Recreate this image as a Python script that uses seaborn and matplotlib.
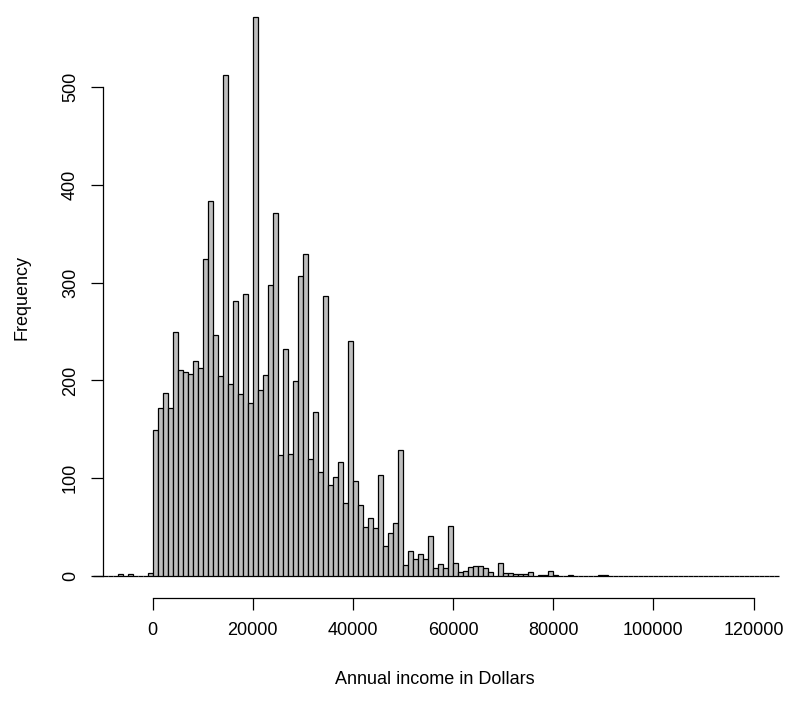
import numpy as np
import pandas as pd
import matplotlib
matplotlib.use("Agg")
import matplotlib.pyplot as plt
import seaborn as sns

# ---- data (bin width 1000 dollars, first bin starts at -12000) ----
bin_start = -12000
bin_width = 1000
counts_negative = [0, 0, 0, 0, 0, 2, 0, 2, 0, 0, 0, 3]            # -12000 .. -1000
counts_0_49k = [149, 172, 187, 172, 250, 211, 209, 207, 220, 213,
                324, 383, 246, 204, 512, 196, 281, 186, 288, 177,
                572, 190, 206, 298, 371, 124, 232, 125, 199, 307,
                329, 120, 168, 106, 286, 93, 101, 117, 75, 240,
                97, 73, 50, 59, 49, 103, 31, 44, 54, 129]
counts_50_99k = [11, 26, 17, 22, 17, 41, 8, 12, 8, 51,
                 13, 4, 5, 9, 10, 10, 8, 4, 0, 13,
                 3, 3, 2, 2, 2, 4, 0, 1, 1, 5,
                 1, 0, 0, 1, 0, 0, 0, 0, 0, 1,
                 1, 0, 0, 0, 0, 0, 0, 0, 0, 0]
counts_100_124k = [0] * 25
x_ticks = [0, 20000, 40000, 60000, 80000, 100000, 120000]
y_ticks = [0, 100, 200, 300, 400, 500]
x_title = "Annual income in Dollars"
y_title = "Frequency"

counts = counts_negative + counts_0_49k + counts_50_99k + counts_100_124k
n_bins = len(counts)
edges = bin_start + bin_width * np.arange(n_bins + 1)
centers = edges[:-1] + bin_width / 2
df = pd.DataFrame({"income": centers, "n": counts})

# ---- figure ----
W, H = 800, 702
sns.set_style("white")
plt.rcParams["font.family"] = ["Liberation Sans", "DejaVu Sans"]
plt.rcParams["text.color"] = "black"
fig = plt.figure(figsize=(W / 100, H / 100), dpi=100)

# pixel mapping: x_px = 152.6 + 0.005008 * value ; y_px = 576 - 0.978 * value
def xval(px):
    return (px - 152.6) / 0.005008

def yval(py):
    return (576 - py) / 0.978

L, R, T, B = 103, 795, 3, 598.4
ax = fig.add_axes([L / W, 1 - B / H, (R - L) / W, (B - T) / H])

sns.histplot(data=df, x="income", weights="n", binwidth=bin_width,
             binrange=(float(edges[0]), float(edges[-1])), ax=ax,
             color="#BEBEBE", edgecolor="black", linewidth=0.9, alpha=1.0,
             stat="count", fill=True)
for p in ax.patches:
    p.set_clip_on(False)

ax.set_xlim(xval(L), xval(R))
ax.set_ylim(yval(B), yval(T))

for s in ["top", "right"]:
    ax.spines[s].set_visible(False)
ax.spines["left"].set_bounds(0, 500)
ax.spines["bottom"].set_bounds(0, 120000)
for s in ["left", "bottom"]:
    ax.spines[s].set_linewidth(0.9)
    ax.spines[s].set_color("black")

ax.set_xticks(x_ticks)
ax.set_xticklabels([str(v) for v in x_ticks])
ax.set_yticks(y_ticks)
ax.set_yticklabels([str(v) for v in y_ticks], rotation=90, va="center")
ax.tick_params(axis="both", direction="out", length=8.4, width=0.9,
               color="black", labelsize=13, labelcolor="black",
               left=True, bottom=True)
ax.tick_params(axis="x", pad=8.9)
ax.tick_params(axis="y", pad=8.8)

ax.set_xlabel("")
ax.set_ylabel("")
fig.text(435 / W, 1 - 680 / H, x_title, ha="center", va="center",
         fontsize=13, color="black")
fig.text(22 / W, 1 - 297 / H, y_title, ha="center", va="center",
         rotation=90, fontsize=13, color="black")

fig.savefig("out.png", dpi=100, facecolor="white")
